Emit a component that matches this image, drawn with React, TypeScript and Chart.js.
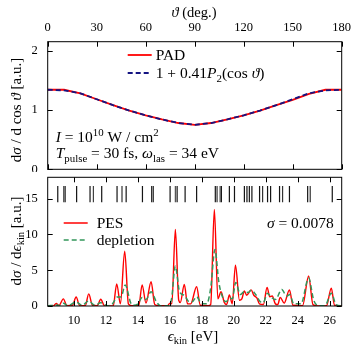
import React, { useEffect, useRef } from "react";
import { Chart, registerables } from "chart.js";
Chart.register(...registerables);

// ---------- data: angular distribution (top panel) ----------
const thetaDeg = [0, 10, 20, 30, 40, 50, 60, 70, 80, 90, 100, 110, 120, 130, 140, 150, 160, 170, 180];
const padValues = [1.34, 1.34, 1.28, 1.18, 1.08, 0.99, 0.91, 0.84, 0.78, 0.75, 0.78, 0.84, 0.91, 0.99, 1.08, 1.17, 1.27, 1.34, 1.34];
const fitValues = [1.34, 1.33, 1.28, 1.18, 1.08, 0.99, 0.91, 0.84, 0.78, 0.75, 0.78, 0.84, 0.91, 0.99, 1.08, 1.18, 1.28, 1.33, 1.34];
const thetaRange = [0, 180];
const padRange = [0, 2.15];

// ---------- data: photoelectron spectrum (bottom panel) ----------
const pesEnergy = [8.35, 8.7, 8.88, 9.05, 9.33, 9.55, 9.9, 10.13, 10.35, 10.7, 10.92, 11.15, 11.45, 11.67, 11.9, 12.45, 12.67, 12.9, 13.17, 13.4, 13.6, 14.05, 14.26, 14.5, 14.82, 15.05, 15.3, 15.85, 16.0, 16.12, 16.34, 16.55, 16.65, 16.9, 17.1, 17.3, 17.67, 17.9, 18.4, 18.55, 18.78, 19.0, 19.2, 19.4, 19.55, 19.72, 19.9, 20.1, 20.35, 20.5, 20.66, 20.8, 21.08, 21.25, 21.45, 21.6, 21.85, 22.08, 22.25, 22.4, 22.6, 22.75, 22.9, 23.15, 23.48, 23.7, 24.3, 24.68, 24.95, 25.3, 25.8, 26.1, 26.3, 26.75];
const pesValue = [0, 0, 0.35, 0.05, 1.0, 0.05, 0.1, 1.25, 0.05, 0.05, 1.7, 0.1, 0.05, 0.95, 0.05, 0, 3.1, 0.3, 7.65, 0.3, 0.05, 0.05, 2.95, 0.4, 3.4, 0.2, 0.05, 0.05, 0.4, 0.3, 10.7, 0.8, 0.5, 3.0, 0.3, 0.3, 2.7, 0.1, 0.05, 0.2, 13.5, 1.0, 2.0, 0.5, 0.2, 1.55, 0.3, 5.7, 0.8, 1.0, 2.1, 1.5, 2.25, 1.5, 1.1, 0.3, 0.2, 2.6, 1.3, 1.4, 0.3, 0.2, 1.2, 0.4, 2.25, 0.1, 0.05, 4.2, 0.2, 0, 0.05, 2.5, 0.1, 0];
const depEnergy = [8.35, 8.88, 9.1, 9.33, 9.6, 10.13, 10.5, 10.92, 11.3, 11.67, 12.1, 12.4, 12.7, 12.95, 13.2, 13.55, 13.75, 14.0, 14.26, 14.5, 14.82, 15.15, 15.4, 15.9, 16.1, 16.34, 16.6, 16.9, 17.2, 17.4, 17.67, 17.95, 18.3, 18.55, 18.82, 19.05, 19.25, 19.5, 19.75, 19.9, 20.12, 20.4, 20.66, 20.9, 21.1, 21.4, 21.65, 21.85, 22.1, 22.35, 22.6, 23.0, 23.3, 23.5, 23.75, 24.2, 24.68, 25.0, 25.3, 25.7, 26.1, 26.4, 26.75];
const depValue = [0, 0.15, 0.05, 0.4, 0.05, 0.55, 0.1, 0.7, 0.1, 0.45, 0.05, 0.3, 1.25, 1.3, 2.95, 0.4, 0.1, 0.3, 1.2, 0.9, 2.0, 0.6, 0.05, 0.05, 1.0, 5.6, 2.0, 1.5, 0.6, 0.6, 1.3, 0.4, 0.3, 2.5, 7.9, 3.5, 1.5, 0.6, 1.1, 1.0, 3.3, 1.6, 2.0, 1.9, 2.2, 1.5, 0.6, 0.5, 1.8, 1.2, 0.9, 2.3, 1.4, 1.6, 0.3, 0.3, 3.9, 0.8, 0.05, 0.05, 1.8, 0.2, 0];
const stickEnergy = [8.98, 9.35, 9.44, 10.16, 11.0, 11.21, 11.73, 12.69, 13.0, 13.26, 14.28, 14.86, 14.96, 16.01, 16.34, 16.45, 16.95, 17.67, 18.84, 18.95, 19.14, 19.22, 19.72, 20.04, 20.66, 20.82, 20.97, 21.13, 21.61, 21.8, 22.11, 22.3, 22.86, 23.05, 23.48, 24.62, 24.78, 26.16];
const stickWeight = [1, 0.6, 1, 1, 1, 0.7, 1, 1, 0.8, 1, 1, 1, 0.8, 1, 0.6, 1, 1, 1, 1, 0.8, 0.6, 1, 1, 1, 1, 1, 1, 1, 1, 0.8, 1, 1, 1, 0.8, 1, 1, 0.8, 1];
const stickSpan = [14.5, 16.8];
const energyRange = [8.35, 26.75];
const pesRange = [0, 18];

// ---------- styling ----------
const FONT = '"Liberation Serif","DejaVu Serif",serif';
const TICK_SIZE = 12.5;
const TEXT_SIZE = 15.5;
const RED = "rgb(255,0,0)";
const BLUE = "rgb(20,20,130)";
const GREEN = "rgb(50,150,90)";

type Seg = { t: string; i?: boolean; sub?: boolean; sup?: boolean };
function segFont(s: Seg, size: number) {
  const sz = s.sub || s.sup ? size * 0.7 : size;
  return `${s.i ? "italic " : ""}${sz}px ${FONT}`;
}
function richWidth(ctx: CanvasRenderingContext2D, segs: Seg[], size: number) {
  let w = 0;
  for (const s of segs) {
    ctx.font = segFont(s, size);
    w += ctx.measureText(s.t).width;
  }
  return w;
}
function drawRich(ctx: CanvasRenderingContext2D, segs: Seg[], x: number, yMid: number, size: number, align: "left" | "center" | "right" = "left") {
  const w = richWidth(ctx, segs, size);
  let cx = align === "left" ? x : align === "center" ? x - w / 2 : x - w;
  const y = yMid + size * 0.33;
  ctx.textAlign = "left";
  ctx.textBaseline = "alphabetic";
  ctx.fillStyle = "#000";
  for (const s of segs) {
    ctx.font = segFont(s, size);
    const dy = s.sub ? size * 0.22 : s.sup ? -size * 0.38 : 0;
    ctx.fillText(s.t, cx, y + dy);
    cx += ctx.measureText(s.t).width;
  }
}
function drawRotated(ctx: CanvasRenderingContext2D, segs: Seg[], x: number, y: number, size: number) {
  ctx.save();
  ctx.translate(x, y);
  ctx.rotate(-Math.PI / 2);
  drawRich(ctx, segs, 0, 0, size, "center");
  ctx.restore();
}
function legendLine(ctx: CanvasRenderingContext2D, x0: number, x1: number, y: number, color: string, dash: number[], width: number) {
  ctx.save();
  ctx.strokeStyle = color;
  ctx.lineWidth = width;
  ctx.setLineDash(dash);
  ctx.beginPath();
  ctx.moveTo(x0, y);
  ctx.lineTo(x1, y);
  ctx.stroke();
  ctx.restore();
}

const framePlugin = {
  id: "frame",
  afterDatasetsDraw(chart: any) {
    const { ctx, chartArea: a, scales } = chart;
    const L = 5;
    ctx.save();
    ctx.strokeStyle = "#000";
    ctx.lineWidth = 1;
    ctx.setLineDash([]);
    ctx.strokeRect(a.left, a.top, a.right - a.left, a.bottom - a.top);
    ctx.beginPath();
    for (const t of scales.x.ticks) {
      const px = Math.round(scales.x.getPixelForValue(t.value)) + 0.5;
      ctx.moveTo(px, a.top);
      ctx.lineTo(px, a.top + L);
      ctx.moveTo(px, a.bottom);
      ctx.lineTo(px, a.bottom - L);
    }
    for (const t of scales.y.ticks) {
      const py = Math.round(scales.y.getPixelForValue(t.value)) + 0.5;
      ctx.moveTo(a.left, py);
      ctx.lineTo(a.left + L, py);
      ctx.moveTo(a.right, py);
      ctx.lineTo(a.right - L, py);
    }
    ctx.stroke();
    ctx.restore();
  },
};

function fixScale(size: { width?: number; height?: number }) {
  return (s: any) => {
    if (size.width !== undefined) s.width = size.width;
    if (size.height !== undefined) s.height = size.height;
    s.paddingTop = 0;
    s.paddingBottom = 0;
    s.paddingLeft = 0;
    s.paddingRight = 0;
  };
}

const tickFont = { family: FONT, size: TICK_SIZE };

export default function App() {
  const topRef = useRef<HTMLCanvasElement>(null);
  const botRef = useRef<HTMLCanvasElement>(null);

  useEffect(() => {
    const topText = {
      id: "topText",
      afterDraw(chart: any) {
        const ctx = chart.ctx as CanvasRenderingContext2D;
        const a = chart.chartArea;
        ctx.save();
        drawRich(ctx, [{ t: "ϑ", i: true }, { t: " (deg.)" }], 194, 12, TEXT_SIZE - 1, "center");
        drawRotated(ctx, [{ t: "d" }, { t: "σ", i: true }, { t: " / d cos " }, { t: "ϑ", i: true }, { t: " [a.u.]" }], 16, 110, TEXT_SIZE - 0.5);
        legendLine(ctx, a.left + 80, a.left + 104, 55, RED, [], 1.8);
        drawRich(ctx, [{ t: "PAD" }], a.left + 108, 55, TEXT_SIZE);
        legendLine(ctx, a.left + 80, a.left + 104, 73, BLUE, [5, 3], 1.8);
        drawRich(ctx, [{ t: "1 + 0.41" }, { t: "P", i: true }, { t: "2", sub: true }, { t: "(cos " }, { t: "ϑ", i: true }, { t: ")" }], a.left + 108, 73, TEXT_SIZE);
        drawRich(ctx, [{ t: "I", i: true }, { t: " = 10" }, { t: "10", sup: true }, { t: " W / cm" }, { t: "2", sup: true }], a.left + 8, 137, TEXT_SIZE);
        drawRich(ctx, [{ t: "T", i: true }, { t: "pulse", sub: true }, { t: " = 30 fs, " }, { t: "ω", i: true }, { t: "las", sub: true }, { t: " = 34 eV" }], a.left + 8, 153, TEXT_SIZE);
        ctx.restore();
      },
    };
    const off = 172;
    const botText = {
      id: "botText",
      afterDraw(chart: any) {
        const ctx = chart.ctx as CanvasRenderingContext2D;
        const a = chart.chartArea;
        ctx.save();
        legendLine(ctx, a.left + 16, a.left + 40, 223 - off, RED, [], 1.5);
        drawRich(ctx, [{ t: "PES" }], a.left + 49, 223 - off, TEXT_SIZE);
        legendLine(ctx, a.left + 16, a.left + 40, 240 - off, GREEN, [5, 3], 1.5);
        drawRich(ctx, [{ t: "depletion" }], a.left + 49, 240 - off, TEXT_SIZE);
        drawRich(ctx, [{ t: "σ", i: true }, { t: " = 0.0078" }], a.right - 8, 223 - off, TEXT_SIZE, "right");
        drawRich(ctx, [{ t: "ϵ", i: true }, { t: "kin", sub: true }, { t: " [eV]" }], 193, 336 - off, TEXT_SIZE - 0.5, "center");
        drawRotated(ctx, [{ t: "d" }, { t: "σ", i: true }, { t: " / d" }, { t: "ϵ", i: true }, { t: "kin", sub: true }, { t: " [a.u.]" }], 16, 241 - off, TEXT_SIZE - 0.5);
        ctx.restore();
      },
    };

    const top = new Chart(topRef.current!, {
      type: "line",
      data: {
        datasets: [
          {
            label: "PAD",
            data: thetaDeg.map((t, i) => ({ x: t, y: padValues[i] })),
            borderColor: RED,
            borderWidth: 1.8,
            pointRadius: 0,
            tension: 0,
            order: 2,
          },
          {
            label: "1 + 0.41 P2(cos θ)",
            data: thetaDeg.map((t, i) => ({ x: t, y: fitValues[i] })),
            borderColor: BLUE,
            borderWidth: 1.8,
            borderDash: [5, 3],
            pointRadius: 0,
            tension: 0,
            order: 1,
          },
        ],
      },
      options: {
        animation: false,
        responsive: false,
        devicePixelRatio: 1,
        layout: { padding: { left: 0, right: 14.3, top: 0, bottom: 2.7 } },
        plugins: { legend: { display: false }, tooltip: { enabled: false } },
        scales: {
          x: {
            type: "linear",
            position: "top",
            min: thetaRange[0],
            max: thetaRange[1],
            ticks: { stepSize: 30, font: tickFont, color: "#000", padding: 6, maxRotation: 0 },
            grid: { display: false, drawTicks: false },
            border: { display: false },
            afterFit: fixScale({ height: 41.7 }),
          },
          y: {
            type: "linear",
            min: padRange[0],
            max: padRange[1],
            ticks: { stepSize: 1, font: tickFont, color: "#000", padding: 10, includeBounds: false },
            grid: { display: false, drawTicks: false },
            border: { display: false },
            afterFit: fixScale({ width: 47.7 }),
          },
        },
      },
      plugins: [framePlugin, topText],
    } as any);

    const stickData: any[] = [];
    stickEnergy.forEach((e) => {
      stickData.push({ x: e, y: stickSpan[0] }, { x: e, y: stickSpan[1] }, { x: e, y: null });
    });

    const bot = new Chart(botRef.current!, {
      type: "line",
      data: {
        datasets: [
          {
            label: "PES",
            data: pesEnergy.map((e, i) => ({ x: e, y: pesValue[i] })),
            borderColor: RED,
            borderWidth: 1.4,
            pointRadius: 0,
            cubicInterpolationMode: "monotone",
            order: 3,
          },
          {
            label: "depletion",
            data: depEnergy.map((e, i) => ({ x: e, y: depValue[i] })),
            borderColor: GREEN,
            borderWidth: 1.5,
            borderDash: [5, 3],
            pointRadius: 0,
            cubicInterpolationMode: "monotone",
            order: 2,
          },
          {
            label: "levels",
            data: stickData,
            borderColor: "#111",
            borderWidth: 1.2,
            pointRadius: 0,
            spanGaps: false,
            tension: 0,
            order: 1,
            segment: {
              borderColor: (c: any) => {
                const w = stickWeight[Math.floor(c.p0DataIndex / 3)] ?? 1;
                const g = Math.round(150 * (1 - w) + 20);
                return `rgb(${g},${g},${g})`;
              },
            },
          },
        ],
      },
      options: {
        animation: false,
        responsive: false,
        devicePixelRatio: 1,
        layout: { padding: { left: 0, right: 14.3, top: 5.3, bottom: 0 } },
        plugins: { legend: { display: false }, tooltip: { enabled: false } },
        scales: {
          x: {
            type: "linear",
            min: energyRange[0],
            max: energyRange[1],
            ticks: { stepSize: 2, font: tickFont, color: "#000", padding: 7, maxRotation: 0, includeBounds: false },
            grid: { display: false, drawTicks: false },
            border: { display: false },
            afterFit: fixScale({ height: 42 }),
          },
          y: {
            type: "linear",
            min: pesRange[0],
            max: pesRange[1],
            ticks: { stepSize: 5, font: tickFont, color: "#000", padding: 10, includeBounds: false },
            grid: { display: false, drawTicks: false },
            border: { display: false },
            afterFit: fixScale({ width: 47.7 }),
          },
        },
      },
      plugins: [framePlugin, botText],
    } as any);

    return () => {
      top.destroy();
      bot.destroy();
    };
  }, []);

  return (
    <div style={{ position: "absolute", left: 0, top: 0, width: 356, height: 348, background: "#fff" }}>
      <canvas ref={topRef} width={356} height={172} style={{ position: "absolute", left: 0, top: 0, width: 356, height: 172 }} />
      <canvas ref={botRef} width={356} height={176} style={{ position: "absolute", left: 0, top: 172, width: 356, height: 176 }} />
    </div>
  );
}
